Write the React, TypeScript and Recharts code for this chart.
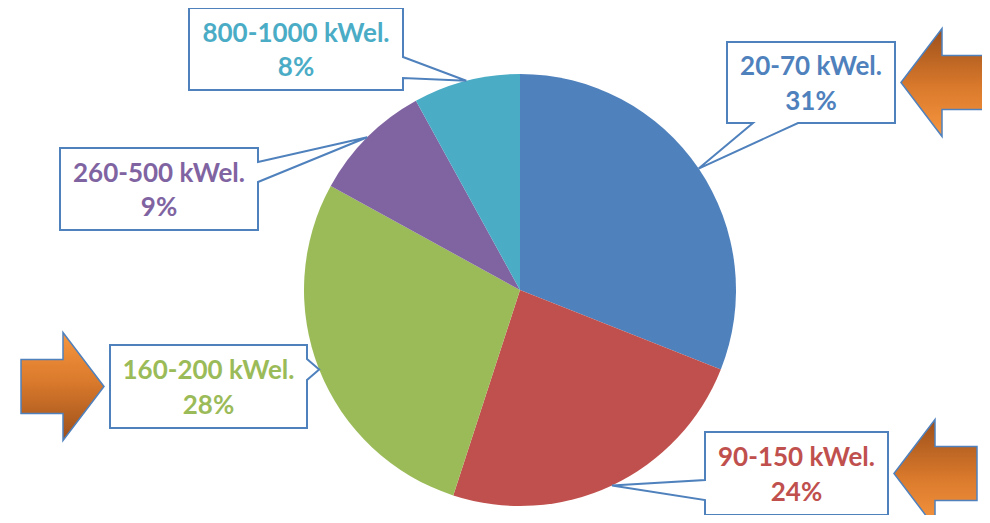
import React from "react";
import { PieChart, Pie, Cell } from "recharts";

// capacity classes, clockwise from 12 o'clock
const categories = ["20-70 kWel.", "90-150 kWel.", "160-200 kWel.", "260-500 kWel.", "800-1000 kWel."];
const shares = [31, 24, 28, 9, 8];
const colors = ["#4F81BD", "#C0504D", "#9BBB59", "#8064A2", "#4BACC6"];
const highlighted = [true, true, true, false, false];

// callout boxes: rect + side where the pointer leaves the box (a/b = pointer base)
const boxes = [
  { x: 727, y: 42, w: 168, h: 81, side: "bottom", a: 753, b: 798, arrow: "left" },
  { x: 705, y: 432, w: 183, h: 83, side: "left", a: 480, b: 500, arrow: "left" },
  { x: 110, y: 345, w: 197, h: 83, side: "right", a: 359, b: 380, arrow: "right" },
  { x: 60, y: 148, w: 198, h: 82, side: "right", a: 162, b: 182, arrow: "" },
  { x: 189, y: 8, w: 214, h: 82, side: "right", a: 57, b: 78, arrow: "" },
];

const data = categories.map((name, i) => ({ name, value: shares[i] }));

const RAD = Math.PI / 180;
const BORDER = "#4F81BD";
const FONT = "Lato, 'Open Sans', sans-serif";

function calloutPath(b: any, tx: number, ty: number) {
  const { x, y, w, h } = b;
  if (b.side === "right") {
    return `M${x},${y} L${x + w},${y} L${x + w},${b.a} L${tx},${ty} L${x + w},${b.b} L${x + w},${y + h} L${x},${y + h} Z`;
  }
  if (b.side === "left") {
    return `M${x},${y} L${x + w},${y} L${x + w},${y + h} L${x},${y + h} L${x},${b.b} L${tx},${ty} L${x},${b.a} Z`;
  }
  return `M${x},${y} L${x + w},${y} L${x + w},${y + h} L${b.b},${y + h} L${tx},${ty} L${b.a},${y + h} L${x},${y + h} Z`;
}

function arrowPath(tx: number, ty: number, dir: string) {
  const s = dir === "left" ? 1 : -1;
  const hl = 41, len = 83, hh = 54, sh = 27;
  return [
    `M${tx},${ty}`,
    `L${tx + s * hl},${ty - hh}`,
    `L${tx + s * hl},${ty - sh}`,
    `L${tx + s * len},${ty - sh}`,
    `L${tx + s * len},${ty + sh}`,
    `L${tx + s * hl},${ty + sh}`,
    `L${tx + s * hl},${ty + hh}`,
    "Z",
  ].join(" ");
}

function renderLabel(props: any) {
  const { cx, cy, midAngle, outerRadius, index, value } = props;
  const b = boxes[index];
  const tx = cx + outerRadius * Math.cos(-midAngle * RAD);
  const ty = cy + outerRadius * Math.sin(-midAngle * RAD);
  const mx = b.x + b.w / 2;
  let arrow = null;
  if (highlighted[index]) {
    const ay = b.y + b.h / 2;
    const ax = b.arrow === "left" ? b.x + b.w + 6 : b.x - 6;
    arrow = (
      <path
        d={arrowPath(ax, ay, b.arrow)}
        fill={b.arrow === "left" ? "url(#arrowDown)" : "url(#arrowUp)"}
        stroke={BORDER}
        strokeWidth={1.5}
      />
    );
  }
  return (
    <g key={`lbl-${index}`}>
      {index === 0 && (
        <defs>
          <linearGradient id="arrowDown" x1="0" y1="0" x2="0" y2="1">
            <stop offset="0%" stopColor="#9C4F1B" />
            <stop offset="55%" stopColor="#DA7A2C" />
            <stop offset="100%" stopColor="#F7963F" />
          </linearGradient>
          <linearGradient id="arrowUp" x1="0" y1="0" x2="0" y2="1">
            <stop offset="0%" stopColor="#F7963F" />
            <stop offset="45%" stopColor="#DA7A2C" />
            <stop offset="100%" stopColor="#9C4F1B" />
          </linearGradient>
        </defs>
      )}
      <path d={calloutPath(b, tx, ty)} fill="#fff" stroke={BORDER} strokeWidth={2} strokeLinejoin="miter" />
      <text
        x={mx}
        y={b.y + b.h * 0.29}
        textAnchor="middle"
        dominantBaseline="central"
        fill={colors[index]}
        fontFamily={FONT}
        fontWeight={700}
        fontSize={26}
      >
        {categories[index]}
      </text>
      <text
        x={mx}
        y={b.y + b.h * 0.71}
        textAnchor="middle"
        dominantBaseline="central"
        fill={colors[index]}
        fontFamily={FONT}
        fontWeight={700}
        fontSize={26}
      >
        {`${value}%`}
      </text>
      {arrow}
    </g>
  );
}

export default function App() {
  return (
    <div style={{ width: 990, height: 523, margin: -8, background: "#fff" }}>
      <PieChart width={990} height={523} margin={{ top: 0, right: 0, bottom: 0, left: 0 }}>
        <Pie
          data={data}
          dataKey="value"
          nameKey="name"
          cx={520}
          cy={290}
          outerRadius={216}
          startAngle={90}
          endAngle={-270}
          stroke="none"
          label={renderLabel}
          labelLine={false}
          isAnimationActive={false}
        >
          {data.map((_, i) => (
            <Cell key={i} fill={colors[i]} />
          ))}
        </Pie>
      </PieChart>
    </div>
  );
}
